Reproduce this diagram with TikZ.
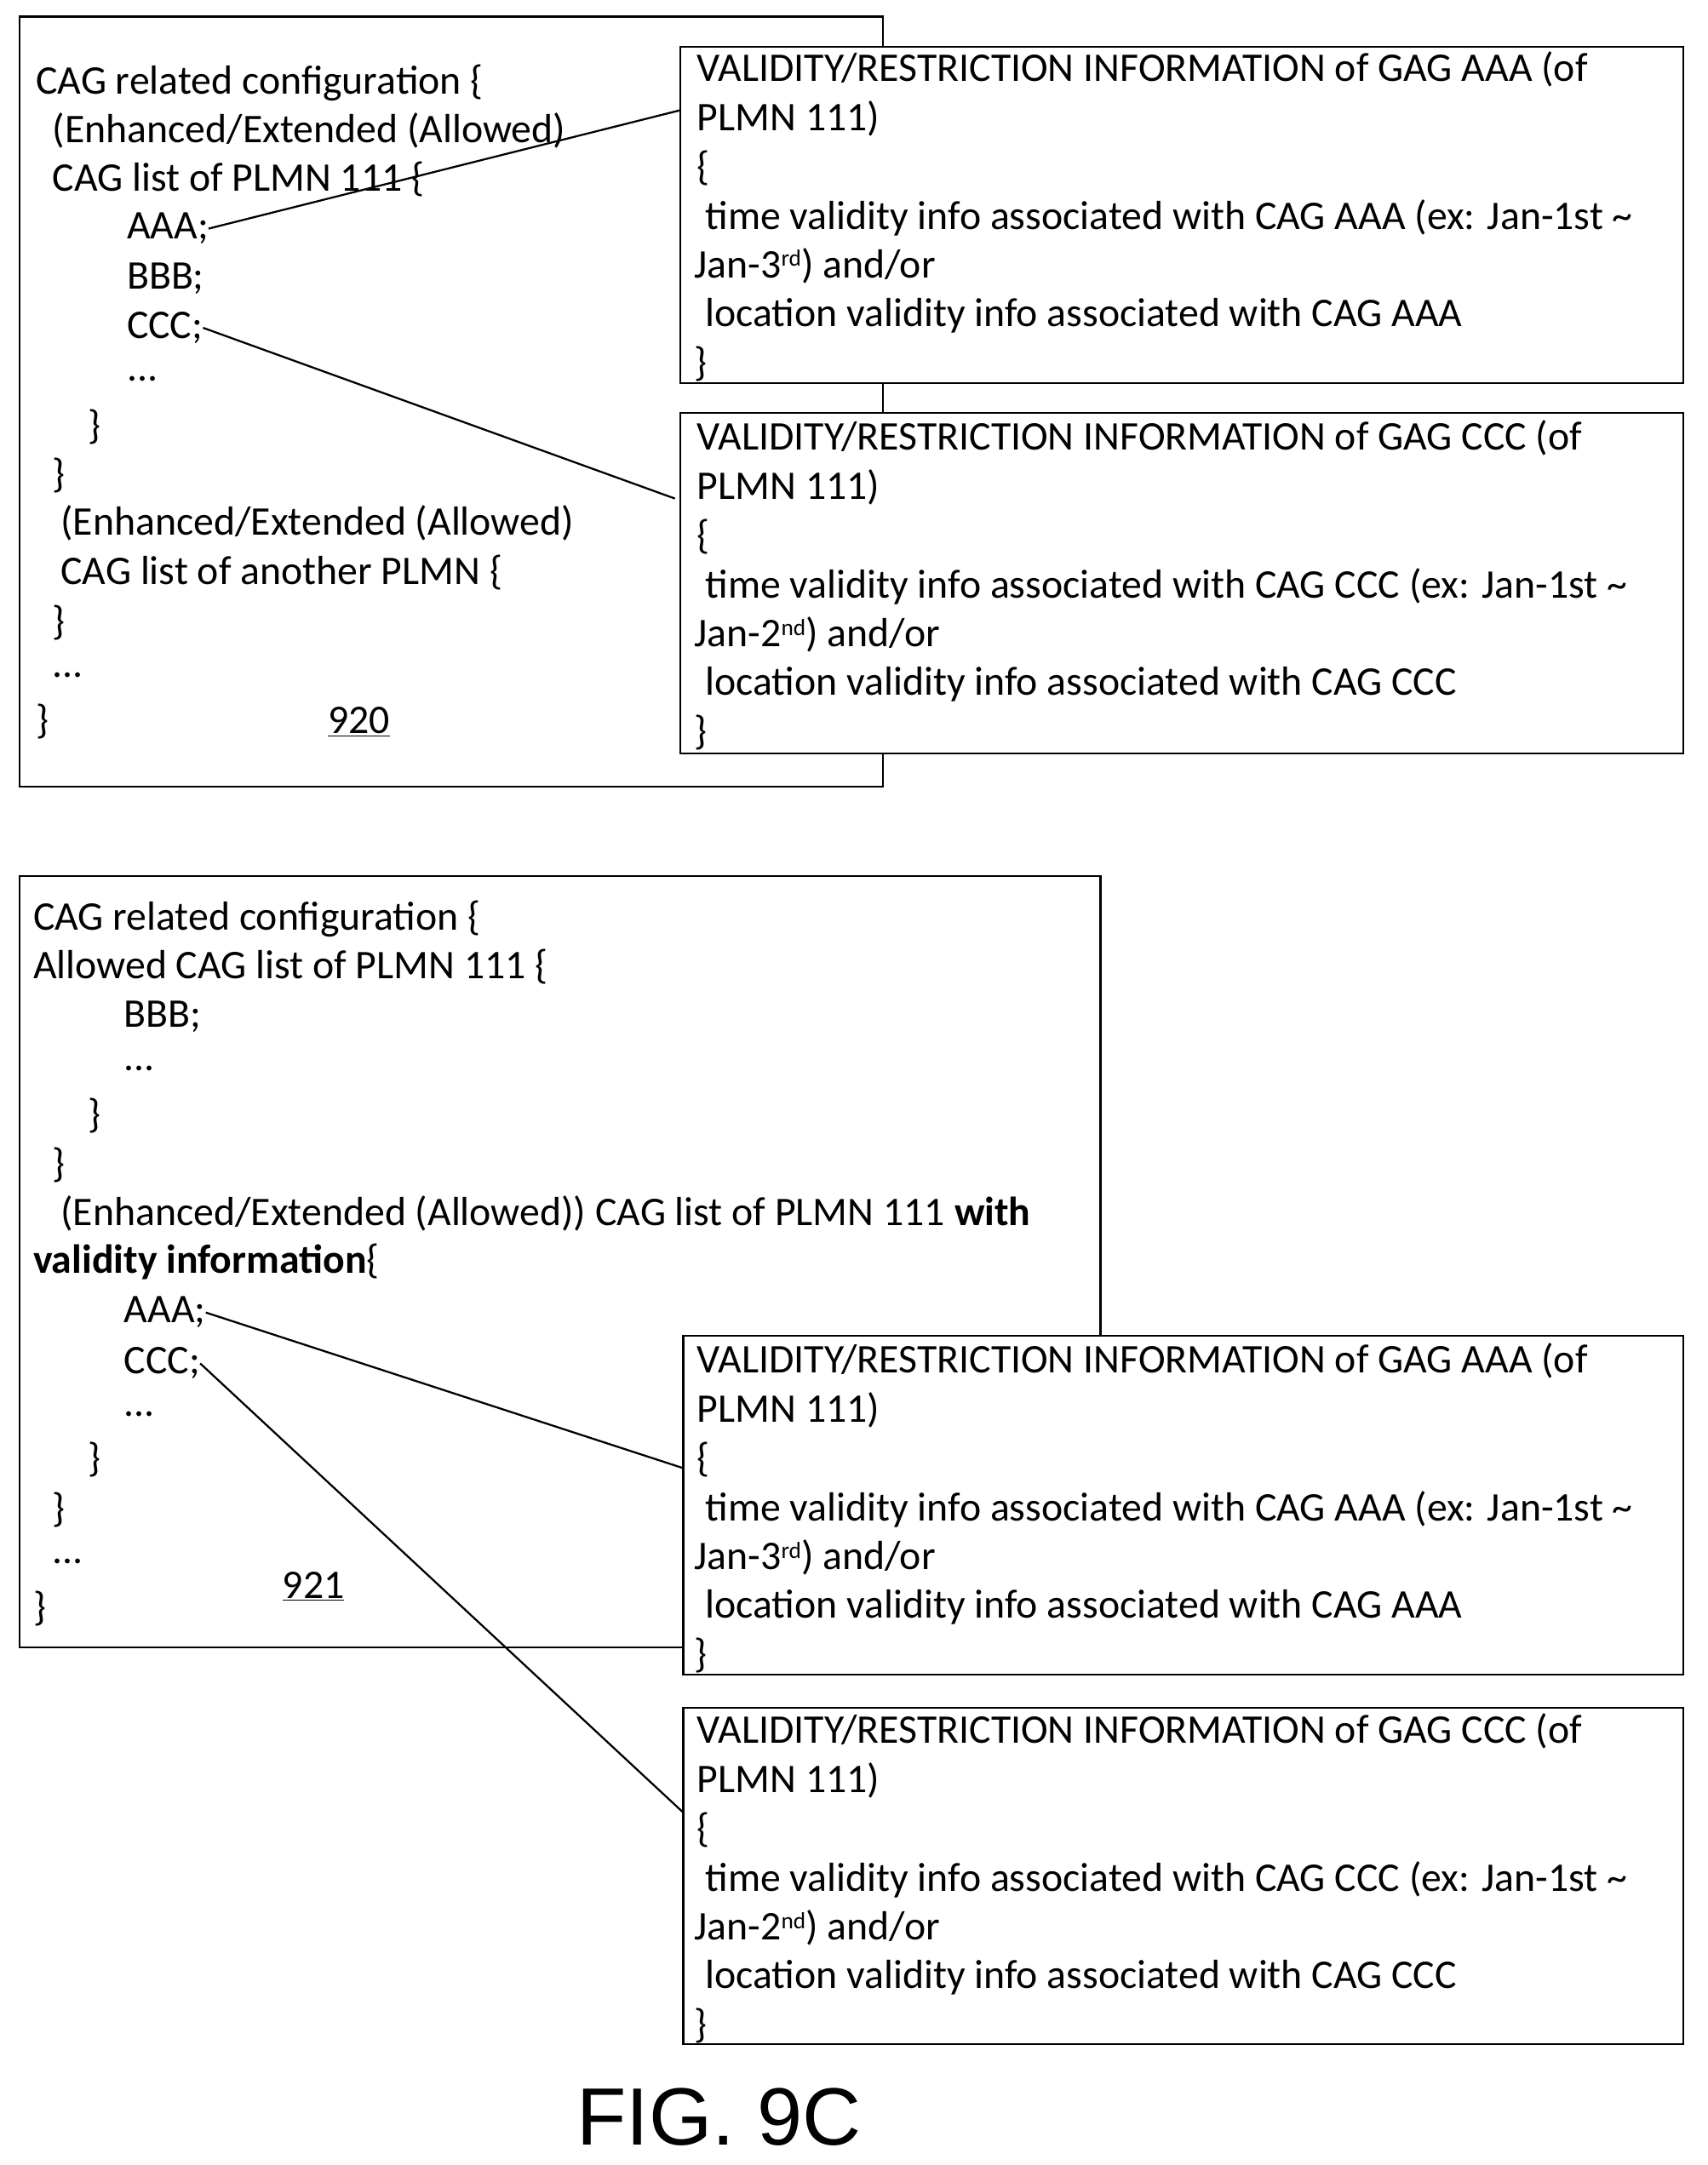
\documentclass[tikz,border=0pt]{standalone}
\usepackage{fontspec}
\setmainfont{Carlito}
\newfontfamily\figfont{Liberation Sans}
\newcommand{\supx}[1]{\raisebox{0.6ex}{\fontsize{24}{24}\selectfont #1}}
\begin{document}
\begin{tikzpicture}[x=0.05cm,y=-0.05cm,
 bx/.style={draw,line width=2pt,fill=white},
 tl/.style={anchor=west,inner sep=0pt,font=\fontsize{42}{48}\selectfont},
 ln/.style={line width=2pt}]
\useasboundingbox (0,0) rectangle (1240,1572);
% box 920
\draw[bx] (14,12) rectangle (641,571);
\foreach \t/\x/\y [count=\i] in {
 {CAG related configuration \{}/26/60,
 {(Enhanced/Extended (Allowed)}/38/95,
 {CAG list of PLMN 111 \{}/38/130,
 {AAA;}/92/166,
 {BBB;}/92/202,
 {CCC;}/92/238,
 {...}/92/275,
 {\}}/64/310,
 {\}}/38/345,
 {(Enhanced/Extended (Allowed)}/44/380,
 {CAG list of another PLMN \{}/44/416,
 {\}}/38/452,
 {...}/38/490,
 {\}}/26/524}
 \node[tl] (ta\i) at (\x,\y) {\t};
\node[tl] (n920) at (238,524) {\underline{920}};
\draw[bx] (494,34) rectangle (1222,278);
\draw[bx] (494,300) rectangle (1222,547);
\coordinate (a1w) at (494,80);
\coordinate (c1w) at (490,362);
\foreach \yo/\g/\d in {0/AAA/{3\supx{rd}},268/CCC/{2\supx{nd}}}{
 \node[tl] at (506,50+\yo) {VALIDITY/RESTRICTION INFORMATION of GAG \g{} (of};
 \node[tl] at (506,86+\yo) {PLMN 111)};
 \node[tl] at (506,122+\yo) {\{};
 \node[tl] at (512,158+\yo) {time validity info associated with CAG \g{} (ex: Jan-1st \textasciitilde};
 \node[tl] at (504,193+\yo) {Jan-\d) and/or};
 \node[tl] at (512,229+\yo) {location validity info associated with CAG \g};
 \node[tl] at (504,264+\yo) {\}};
}
\draw[ln] (ta4.east) -- (a1w);
\draw[ln] (ta6.east) -- (c1w);
% box 921
\draw[bx] (14,636) rectangle (799,1196);
\foreach \t/\x/\y [count=\i] in {
 {CAG related configuration \{}/24/667,
 {Allowed CAG list of PLMN 111 \{}/24/702,
 {BBB;}/90/738,
 {...}/90/776,
 {\}}/64/810,
 {\}}/38/846,
 {(Enhanced/Extended (Allowed)) CAG list of PLMN 111 \textbf{with}}/44/881,
 {\textbf{validity information}\{}/24/916,
 {AAA;}/90/953,
 {CCC;}/90/990,
 {...}/90/1027,
 {\}}/64/1060,
 {\}}/38/1096,
 {...}/38/1134,
 {\}}/24/1168}
 \node[tl] (tb\i) at (\x,\y) {\t};
\node[tl] (n921) at (205,1152) {\underline{921}};
\draw[bx] (496,970) rectangle (1222,1216);
\draw[bx] (496,1240) rectangle (1222,1484);
\coordinate (a2w) at (496,1066);
\coordinate (c2w) at (496,1316);
\foreach \yo/\g/\d in {0/AAA/{3\supx{rd}},269/CCC/{2\supx{nd}}}{
 \node[tl] at (506,988+\yo) {VALIDITY/RESTRICTION INFORMATION of GAG \g{} (of};
 \node[tl] at (506,1024+\yo) {PLMN 111)};
 \node[tl] at (506,1060+\yo) {\{};
 \node[tl] at (512,1096+\yo) {time validity info associated with CAG \g{} (ex: Jan-1st \textasciitilde};
 \node[tl] at (504,1131+\yo) {Jan-\d) and/or};
 \node[tl] at (512,1167+\yo) {location validity info associated with CAG \g};
 \node[tl] at (504,1202+\yo) {\}};
}
\draw[ln] (tb9.east) -- (a2w);
\draw[ln] (tb10.east) -- (c2w);
\node[font=\figfont\fontsize{84}{90}\selectfont] (fig) at (522,1537) {FIG. 9C};
\end{tikzpicture}
\end{document}
